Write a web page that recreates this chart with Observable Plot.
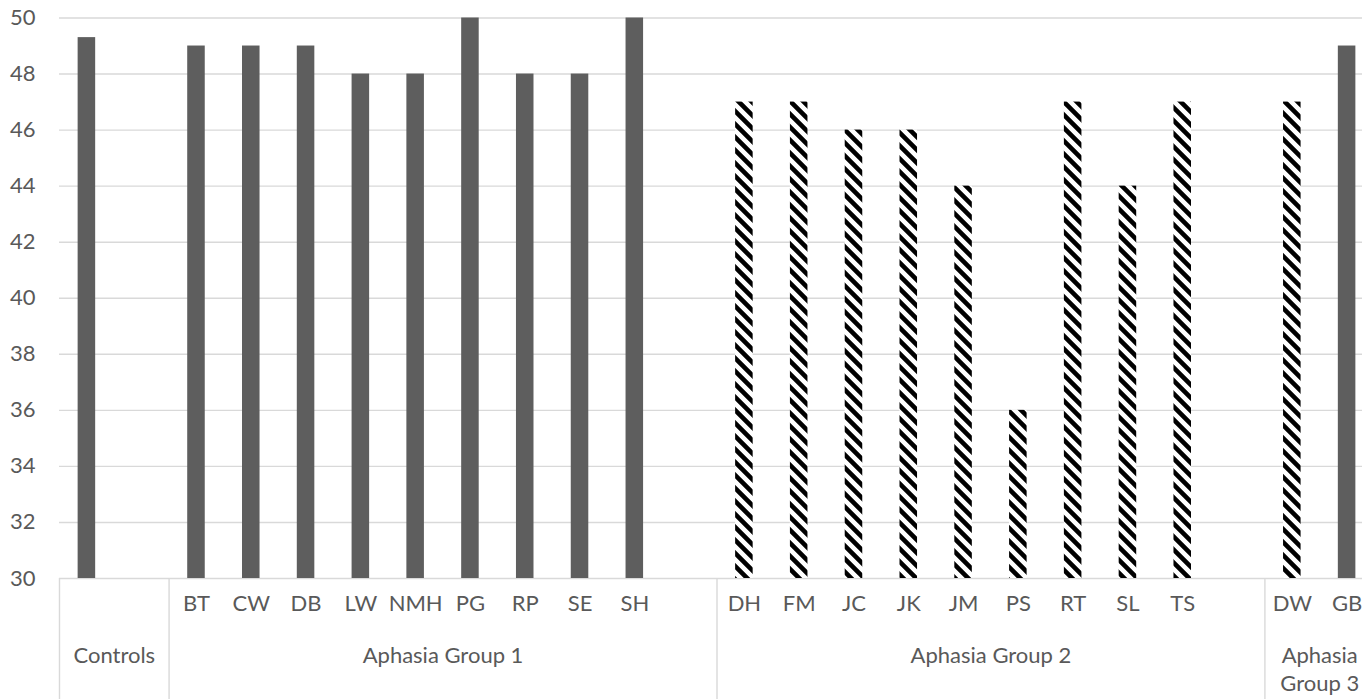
<!DOCTYPE html>
<html>
<head>
<meta charset="utf-8">
<script src="https://cdn.jsdelivr.net/npm/d3@7"></script>
<script src="https://cdn.jsdelivr.net/npm/@observablehq/plot@0.6"></script>
<style>
  html, body { margin: 0; padding: 0; background: white; overflow: hidden; }
  #chart svg { display: block; }
</style>
</head>
<body>
<div id="chart"></div>
<script>
// ---- data ----
const groups = ["Controls", "Aphasia Group 1", "Aphasia Group 2", "Aphasia Group 3"];
const subjects = [
  ["", ""],
  ["BT", "CW", "DB", "LW", "NMH", "PG", "RP", "SE", "SH", ""],
  ["DH", "FM", "JC", "JK", "JM", "PS", "RT", "SL", "TS", ""],
  ["DW", "GB"]
];
const scores = [
  [49.3, null],
  [49, 49, 49, 48, 48, 50, 48, 48, 50, null],
  [47, 47, 46, 46, 44, 36, 47, 44, 47, null],
  [47, 49]
];
const hatchedSubjects = ["DH", "FM", "JC", "JK", "JM", "PS", "RT", "SL", "TS", "DW"];
const yTicks = [30, 32, 34, 36, 38, 40, 42, 44, 46, 48, 50];

// ---- build rows ----
const rows = [];
const groupRows = [];
let slot = 0;
groups.forEach((g, gi) => {
  const start = slot;
  subjects[gi].forEach((s, si) => {
    rows.push({group: g, subject: s, value: scores[gi][si], slot, hatched: hatchedSubjects.includes(s)});
    slot++;
  });
  groupRows.push({name: g, start, end: slot, slots: slot - start});
});
const bars = rows.filter(d => d.value != null);
const solid = bars.filter(d => !d.hatched);
const hatched = bars.filter(d => d.hatched);
const bounds = [0, ...groupRows.map(d => d.end)];

const FONT = "Lato, 'Open Sans', sans-serif";
const FS = 22;
const TEXT = "#595959";
const GRID = "#d9d9d9";

const chart = Plot.plot({
  width: 1362,
  height: 699,
  marginLeft: 59,
  marginRight: 0,
  marginTop: 17.5,
  marginBottom: 0,
  x: {type: "linear", domain: [0, slot], range: [59, 1374], axis: null},
  y: {domain: [30, 50], range: [578, 17.5], axis: null},
  style: {fontFamily: FONT, fontSize: FS + "px", color: TEXT, background: "white", overflow: "hidden"},
  marks: [
    Plot.ruleY(yTicks, {y: d => d, stroke: GRID, strokeWidth: 1.4}),
    Plot.text(yTicks, {y: d => d, text: d => String(d), frameAnchor: "left", textAnchor: "end", dx: -24, fill: TEXT, fontSize: FS}),
    Plot.rectY(solid, {x1: d => d.slot + 0.34, x2: d => d.slot + 0.66, y1: 30, y2: "value", fill: "#5e5e5e"}),
    Plot.rectY(hatched, {x1: d => d.slot + 0.34, x2: d => d.slot + 0.66, y1: 30, y2: "value", fill: "url(#hatch)"}),
    Plot.ruleX(bounds, {x: d => d, y1: 30, stroke: GRID, strokeWidth: 1.4}),
    Plot.text(rows.filter(d => d.subject), {x: d => d.slot + 0.5, text: "subject", frameAnchor: "bottom", dy: -89, fill: TEXT, fontSize: FS}),
    Plot.text(groupRows.filter(d => d.slots > 2), {x: d => (d.start + d.end) / 2, text: "name", frameAnchor: "bottom", lineAnchor: "top", dy: -52, fill: TEXT, fontSize: FS}),
    Plot.text(groupRows.filter(d => d.slots <= 2), {x: d => (d.start + d.end) / 2, text: "name", frameAnchor: "bottom", lineAnchor: "top", dy: -57, lineWidth: 4.6, lineHeight: 1.3, fill: TEXT, fontSize: FS})
  ]
});

// hatch pattern (wide downward diagonal)
const ns = "http://www.w3.org/2000/svg";
const defs = document.createElementNS(ns, "defs");
defs.innerHTML = `<pattern id="hatch" patternUnits="userSpaceOnUse" width="13" height="13">
  <rect width="13" height="13" fill="white"></rect>
  <path d="M0,0 L13,13 M-3,10 L3,16 M10,-3 L16,3" stroke="black" stroke-width="4.6"></path>
</pattern>`;
chart.insertBefore(defs, chart.firstChild);

document.getElementById("chart").appendChild(chart);
</script>
</body>
</html>
